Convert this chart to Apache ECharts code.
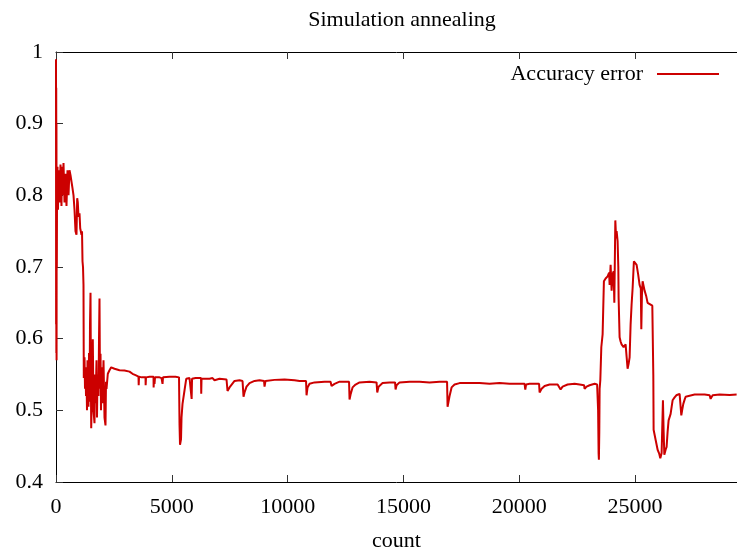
<!DOCTYPE html>
<html>
<head>
<meta charset="utf-8">
<script src="https://cdn.jsdelivr.net/npm/echarts@6/dist/echarts.min.js"></script>
<style>
html,body{margin:0;padding:0;background:#fff;}
#chart{width:737px;height:557px;}
</style>
</head>
<body>
<div id="chart"></div>
<script>
const chartTitle = 'Simulation annealing';
const seriesName = 'Accuracy error';
const xAxisName = 'count';
const xTicks = [0, 5000, 10000, 15000, 20000, 25000];
const yTicks = [0.4, 0.5, 0.6, 0.7, 0.8, 0.9, 1];
const countValues = [
0,5,10,15,20,25,30,36,43,65,86,108,151,194,237,259,281,324,367,410,453,497,540,583,626,669,712,756,799,820,842,885,915,941,972,1015,1045,1101,1123,1144,1166,1187,1200,
1231,1252,1274,1295,1317,1338,1360,1382,1403,1425,1447,1468,1490,1511,1520,1554,1589,1619,1662,1684,1706,1749,1770,1792,1835,1857,1878,1900,1922,1943,1965,2008,2051,2094,2137,2159,2181,
2237,2310,2383,2526,2742,2958,3174,3303,3433,3562,3570,3584,3692,3865,3870,3886,4037,4210,4215,4232,4253,4275,4469,4556,4599,4620,4901,5160,5311,5333,5354,5398,5419,5462,5505,5549,5622,
5765,5851,5856,5873,6024,6110,6261,6270,6283,6628,6758,6844,7060,7362,7405,7492,7578,7708,7924,8053,8096,8139,8226,8355,8571,8787,8981,9003,9046,9435,9867,10298,10514,10795,10817,10860,10946,
11162,11594,11853,11896,12026,12242,12652,12673,12717,12803,12932,13105,13537,13839,13869,13926,14098,14401,14638,14660,14703,14832,15264,15696,16128,16559,16883,16905,16948,16991,17078,17207,17423,
17855,18287,18718,19150,19582,20014,20230,20260,20295,20446,20856,20878,20964,21094,21310,21655,21785,21871,22087,22390,22605,22799,22821,22907,23037,23253,23361,23404,23425,23438,23455,23469,23499,
23542,23598,23654,23728,23814,23879,23901,23944,23987,24030,24074,24104,24147,24181,24203,24246,24276,24289,24332,24375,24418,24505,24591,24634,24677,24721,24764,24807,24850,24893,24949,25022,25066,
25131,25195,25247,25269,25295,25325,25411,25476,25541,25627,25744,25787,25800,25886,25973,26037,26089,26145,26203,26233,26262,26318,26361,26404,26447,26534,26620,26706,26780,26922,26987,26996,27031,
27082,27139,27182,27268,27571,28003,28219,28262,28348,28650,29082,29384
];
const errorValues = [
0.99,0.62,0.95,0.58,0.90,0.57,0.84,0.70,0.79,0.84,0.78,0.835,0.79,0.843,0.785,0.84,0.80,0.845,0.79,0.83,0.785,0.835,0.80,0.835,0.828,0.83,0.81,0.80,0.78,0.765,0.75,0.745,0.796,0.79,0.77,0.775,0.754,0.745,0.75,0.708,0.70,0.675,0.545,
0.574,0.53,0.56,0.52,0.545,0.50,0.57,0.515,0.505,0.58,0.512,0.62,0.664,0.52,0.475,0.53,0.599,0.50,0.482,0.55,0.51,0.57,0.49,0.55,0.52,0.60,0.656,0.53,0.579,0.50,0.56,0.51,0.57,0.49,0.479,0.54,0.53,
0.551,0.556,0.56,0.558,0.556,0.5555,0.554,0.551,0.549,0.547,0.535,0.547,0.546,0.546,0.535,0.546,0.547,0.547,0.532,0.546,0.537,0.546,0.546,0.545,0.537,0.546,0.547,0.547,0.546,0.48,0.452,0.46,0.49,0.509,0.51,0.528,0.544,
0.545,0.545,0.516,0.544,0.545,0.544,0.545,0.523,0.544,0.544,0.545,0.542,0.544,0.543,0.527,0.532,0.534,0.541,0.542,0.541,0.519,0.525,0.533,0.538,0.541,0.542,0.541,0.533,0.541,0.5425,0.543,0.542,0.541,0.541,0.521,0.532,0.537,
0.539,0.540,0.540,0.534,0.537,0.540,0.540,0.515,0.522,0.532,0.536,0.539,0.540,0.539,0.525,0.533,0.538,0.539,0.539,0.529,0.535,0.539,0.540,0.540,0.539,0.540,0.540,0.505,0.505,0.52,0.532,0.536,0.538,
0.538,0.538,0.537,0.538,0.537,0.537,0.537,0.529,0.536,0.537,0.537,0.525,0.530,0.534,0.536,0.536,0.529,0.533,0.536,0.537,0.536,0.535,0.530,0.533,0.535,0.537,0.536,0.50,0.44,0.431,0.47,0.53,0.542,
0.588,0.606,0.68,0.684,0.687,0.692,0.675,0.703,0.667,0.69,0.694,0.65,0.765,0.74,0.75,0.736,0.70,0.657,0.602,0.596,0.592,0.588,0.592,0.575,0.558,0.565,0.574,0.62,0.648,0.67,0.708,0.706,0.703,
0.69,0.675,0.67,0.613,0.66,0.68,0.667,0.66,0.65,0.648,0.646,0.55,0.473,0.459,0.445,0.44,0.433,0.44,0.514,0.47,0.438,0.445,0.449,0.47,0.486,0.495,0.514,0.518,0.521,0.523,0.523,0.493,0.50,
0.509,0.515,0.519,0.521,0.522,0.522,0.521,0.516,0.521,0.522,0.5215,0.522
];
const xMax = 29400;

const seriesData = countValues.map((c, i) => [c, errorValues[i]]);
const font = "'Liberation Serif', 'Times New Roman', serif";
const chart = echarts.init(document.getElementById('chart'), null, {renderer: 'canvas'});
const tickStyle = {show: true, inside: true, length: 7, lineStyle: {color: '#333', width: 1}};
chart.setOption({
  animation: false,
  backgroundColor: '#fff',
  title: {
    text: chartTitle, left: 397, top: 4, textAlign: 'center',
    textStyle: {fontFamily: font, fontSize: 22, fontWeight: 'normal', color: '#000'}
  },
  legend: {
    data: [seriesName], right: 13, top: 58, align: 'right',
    itemWidth: 62, itemHeight: 2, icon: 'rect',
    textStyle: {fontFamily: font, fontSize: 22, color: '#000', padding: [0, 9, 0, 0]}
  },
  grid: {left: 56, right: 0, top: 52, bottom: 71},
  xAxis: [{
    type: 'value', min: 0, max: xMax, position: 'bottom',
    name: xAxisName, nameLocation: 'middle', nameGap: 48,
    nameTextStyle: {fontFamily: font, fontSize: 22, color: '#000'},
    axisLine: {show: true, lineStyle: {color: '#000', width: 1}},
    axisTick: Object.assign({customValues: xTicks}, tickStyle),
    axisLabel: {customValues: xTicks, fontFamily: font, fontSize: 22, color: '#000', margin: 14,
      formatter: v => String(v)},
    splitLine: {show: false}
  }, {
    type: 'value', min: 0, max: xMax, position: 'top',
    axisLine: {show: true, lineStyle: {color: '#000', width: 1}},
    axisTick: Object.assign({customValues: xTicks}, tickStyle),
    axisLabel: {show: false},
    splitLine: {show: false}
  }],
  yAxis: {
    type: 'value', min: 0.4, max: 1, interval: 0.1,
    axisLine: {show: true, lineStyle: {color: '#000', width: 1}},
    axisTick: Object.assign({customValues: yTicks}, tickStyle),
    axisLabel: {customValues: yTicks, fontFamily: font, fontSize: 22, color: '#000', margin: 13,
      formatter: v => String(Math.round(v * 10) / 10)},
    splitLine: {show: false}
  },
  series: [{
    name: seriesName, type: 'line', xAxisIndex: 0, data: seriesData,
    showSymbol: false, symbol: 'none', sampling: null,
    lineStyle: {color: '#cc0000', width: 2},
    itemStyle: {color: '#cc0000'}
  }]
});
</script>
</body>
</html>
